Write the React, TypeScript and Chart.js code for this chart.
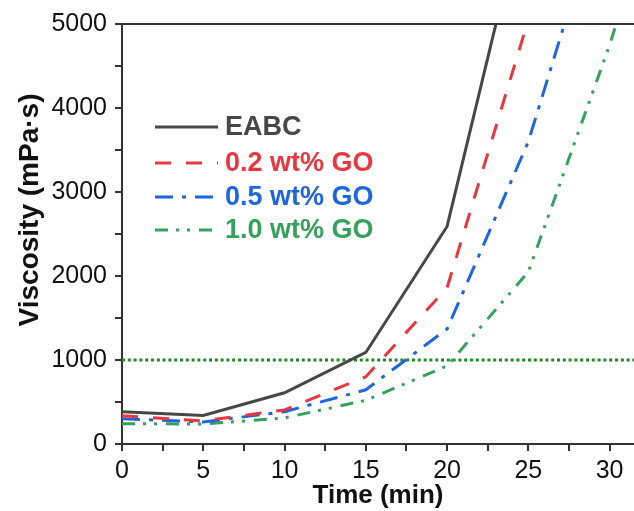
import React, { useEffect, useRef } from 'react';
import { Chart, registerables } from 'chart.js';

Chart.register(...registerables);

// ---- data ----
const timeMin = [0, 5, 10, 15, 20, 25, 30, 35];
const seriesNames = ['EABC', '0.2 wt% GO', '0.5 wt% GO', '1.0 wt% GO'];
const eabc = [385, 340, 610, 1090, 2590, 6600];
const go02 = [335, 275, 405, 800, 1860, 5050];
const go05 = [300, 262, 385, 645, 1370, 3600, 6750];
const go10 = [242, 238, 310, 520, 930, 2050, 4750, 7800];
const thresholdValue = 1000;
const xRange = [0, 31.5];
const yRange = [0, 5000];
const xMajorStep = 5;
const yMajorStep = 1000;
const xTitle = 'Time (min)';
const yTitle = 'Viscosity (mPa·s)';

// ---- styles ----
const colors = ['#474747', '#e8373f', '#1e66dd', '#35a15c'];
const dashes: number[][] = [[], [16, 15], [18, 9, 4, 9], [13, 8, 3, 8, 3, 9]];
const thresholdColor = '#1f8a22';
const axisColor = '#333333';
const FONT = '"Liberation Sans", Arial, Helvetica, sans-serif';

const toPoints = (vals: number[]) => vals.map((v, i) => ({ x: timeMin[i], y: v }));

const legendPlugin = {
  id: 'insideLegend',
  afterDatasetsDraw(chart: any) {
    const { ctx, chartArea } = chart;
    const x0 = chartArea.left + 33;
    const x1 = chartArea.left + 96;
    const tx = chartArea.left + 103;
    const rows = [103, 139, 173, 206];
    seriesNames.forEach((name, i) => {
      const y = chartArea.top + rows[i];
      ctx.save();
      ctx.strokeStyle = colors[i];
      ctx.lineWidth = 3;
      ctx.setLineDash(dashes[i]);
      ctx.beginPath();
      ctx.moveTo(x0, y);
      ctx.lineTo(x1, y);
      ctx.stroke();
      ctx.setLineDash([]);
      ctx.fillStyle = colors[i];
      ctx.font = `bold 27px ${FONT}`;
      ctx.textAlign = 'left';
      ctx.textBaseline = 'middle';
      ctx.fillText(name, tx, y + 1);
      ctx.restore();
    });
  },
};

const framePlugin = {
  id: 'frameAndTitle',
  afterDraw(chart: any) {
    const { ctx, chartArea } = chart;
    ctx.save();
    ctx.strokeStyle = axisColor;
    ctx.lineWidth = 2;
    ctx.beginPath();
    ctx.moveTo(chartArea.left, chartArea.top);
    ctx.lineTo(chartArea.right, chartArea.top);
    ctx.stroke();
    // y axis title
    ctx.translate(30, 210);
    ctx.rotate(-Math.PI / 2);
    ctx.fillStyle = '#111111';
    ctx.font = `bold 28px ${FONT}`;
    ctx.textAlign = 'center';
    ctx.textBaseline = 'middle';
    ctx.fillText(yTitle, 0, 0);
    ctx.restore();
  },
};

export default function App() {
  const ref = useRef<HTMLCanvasElement | null>(null);
  useEffect(() => {
    document.body.style.margin = '0';
    const canvas = ref.current;
    if (!canvas) return;
    const datasets: any[] = [eabc, go02, go05, go10].map((vals, i) => ({
      label: seriesNames[i],
      data: toPoints(vals),
      borderColor: colors[i],
      backgroundColor: colors[i],
      borderWidth: 3,
      borderDash: dashes[i],
      pointRadius: 0,
      tension: 0,
      fill: false,
    }));
    datasets.push({
      label: 'threshold',
      data: [
        { x: xRange[0], y: thresholdValue },
        { x: xRange[1], y: thresholdValue },
      ],
      borderColor: thresholdColor,
      borderWidth: 3,
      borderDash: [3, 2.8],
      pointRadius: 0,
      fill: false,
    });
    const chart = new Chart(canvas, {
      type: 'line',
      data: { datasets },
      options: {
        animation: false,
        responsive: false,
        devicePixelRatio: 1,
        layout: { padding: { top: 24, right: 0, left: 0, bottom: 0 } },
        plugins: { legend: { display: false }, tooltip: { enabled: false } },
        scales: {
          x: {
            type: 'linear',
            min: xRange[0],
            max: xRange[1],
            afterFit: (s: any) => {
              s.height = 67;
            },
            border: { display: true, color: axisColor, width: 2 },
            grid: {
              drawOnChartArea: false,
              drawTicks: true,
              tickLength: 7,
              color: axisColor,
              lineWidth: 2,
            },
            ticks: {
              stepSize: xMajorStep / 2,
              autoSkip: false,
              includeBounds: false,
              maxRotation: 0,
              padding: 5,
              color: '#111111',
              font: { family: FONT, size: 25 },
              callback: (v: any) => (Number(v) % xMajorStep === 0 ? String(v) : ''),
            },
            title: {
              display: true,
              text: xTitle,
              color: '#111111',
              font: { family: FONT, size: 26, weight: 'bold' },
              padding: { top: 0, bottom: 0 },
            },
          },
          y: {
            type: 'linear',
            min: yRange[0],
            max: yRange[1],
            afterFit: (s: any) => {
              s.width = 122;
            },
            border: { display: true, color: axisColor, width: 2 },
            grid: {
              drawOnChartArea: false,
              drawTicks: true,
              tickLength: 7,
              color: axisColor,
              lineWidth: 2,
            },
            ticks: {
              stepSize: yMajorStep / 2,
              autoSkip: false,
              padding: 8,
              color: '#111111',
              font: { family: FONT, size: 25 },
              callback: (v: any) => (Number(v) % yMajorStep === 0 ? String(v) : ''),
            },
          },
        },
      },
      plugins: [legendPlugin, framePlugin],
    });
    return () => chart.destroy();
  }, []);
  return (
    <div style={{ width: 634, height: 511 }}>
      <canvas ref={ref} width={634} height={511} style={{ display: 'block' }} />
    </div>
  );
}
